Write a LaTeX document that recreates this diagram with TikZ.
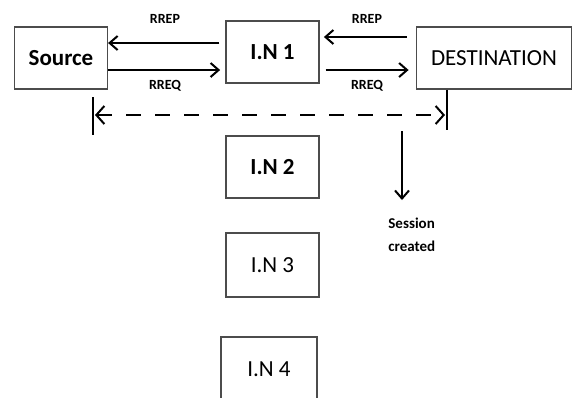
\documentclass[tikz,border=0pt]{standalone}
\usepackage{fontspec}
\setmainfont{Carlito}
\usetikzlibrary{arrows.meta,positioning}

\begin{document}
\begin{tikzpicture}[x=0.5pt, y=-0.5pt,
  nodebox/.style={rectangle, draw=black!70, line width=0.6pt, minimum width=46.5pt, minimum height=31pt, inner sep=0pt, font=\fontsize{11.5}{13}\selectfont},
  msg/.style={font=\fontsize{7}{8}\selectfont\bfseries, inner sep=0pt},
  arr/.style={-{Straight Barb[length=4pt, width=7pt]}, line width=1pt},
  darr/.style={{Straight Barb[length=4pt, width=9pt]}-{Straight Barb[length=4pt, width=9pt]}, line width=1pt, dash pattern=on 7.5pt off 7pt}]
\clip (0,0) rectangle (573,397);
\useasboundingbox (0,0) rectangle (573,397);
% nodes
\node[nodebox, font=\fontsize{11.5}{13}\selectfont\bfseries] (src) at (61,58) {Source};
\node[nodebox, font=\fontsize{11.5}{13}\selectfont\bfseries] (in1) at (272.5,52) {I.N 1};
\node[nodebox, minimum width=77.5pt] (dest) at (494,58) {DESTINATION};
\node[nodebox, font=\fontsize{11.5}{13}\selectfont\bfseries] (in2) at (272.5,167) {I.N 2};
\node[nodebox, minimum height=32pt] (in3) at (272.5,265) {I.N 3};
\node[nodebox, minimum width=48pt, minimum height=32pt] (in4) at (269,369) {I.N 4};
% route messages
\draw[arr] (in1.west |- 0,43) ++(-6,0) -- (src.east |- 0,43);
\draw[arr] (src.east |- 0,70) -- ++(112,0);
\draw[arr] (dest.west |- 0,37) ++(-9,0) -- ++(-83,0);
\draw[arr] (in1.east |- 0,70) ++(6,0) -- ++(83,0);
\node[msg] (rrep1) at (165,19) {RREP};
\node[msg] (rreq1) at (165,86) {RREQ};
\node[msg] (rrep2) at (367,19) {RREP};
\node[msg] (rreq2) at (367,86) {RREQ};
% session span
\coordinate (lbar) at (93,115);
\coordinate (rbar) at (447,115);
\draw[line width=1pt] (93,97) -- (93,135);
\draw[line width=1pt] (dest.south -| rbar) -- (447,130);
\draw[darr] ([xshift=1pt]lbar) -- ([xshift=-1pt]rbar);
\coordinate (sdown) at (402,131);
\draw[arr] (sdown) -- (402,200);
\node[anchor=north west, align=left, inner sep=0pt, font=\fontsize{7.5}{11.5}\selectfont\bfseries] (sess) at (388,218) {Session\\created};
\end{tikzpicture}
\end{document}
